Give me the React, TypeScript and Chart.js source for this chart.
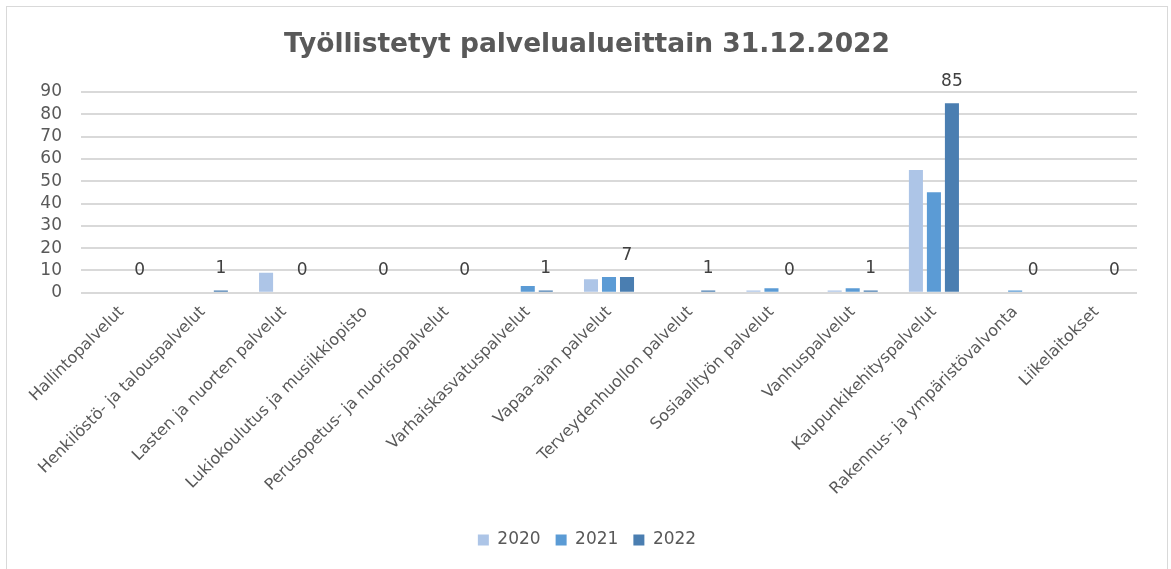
import React, { useEffect, useRef } from "react";
import { Chart, registerables } from "chart.js";

Chart.register(...registerables);

const TITLE = "Työllistetyt palvelualueittain 31.12.2022";

const categories = [
  "Hallintopalvelut",
  "Henkilöstö- ja talouspalvelut",
  "Lasten ja nuorten palvelut",
  "Lukiokoulutus ja musiikkiopisto",
  "Perusopetus- ja nuorisopalvelut",
  "Varhaiskasvatuspalvelut",
  "Vapaa-ajan palvelut",
  "Terveydenhuollon palvelut",
  "Sosiaalityön palvelut",
  "Vanhuspalvelut",
  "Kaupunkikehityspalvelut",
  "Rakennus- ja ympäristövalvonta",
  "Liikelaitokset",
];

const seriesNames = ["2020", "2021", "2022"];
const values2020 = [0, 0, 9, 0, 0, 0, 6, 0, 1, 1, 55, 0, 0];
const values2021 = [0, 0, 0, 0, 0, 3, 7, 0, 2, 2, 45, 1, 0];
const values2022 = [0, 1, 0, 0, 0, 1, 7, 1, 0, 1, 85, 0, 0];

const yMin = 0;
const yMax = 90;
const yStep = 10;

const FONT = "'DejaVu Sans', Verdana, sans-serif";

const valueLabelPlugin = {
  id: "valueLabels",
  afterDatasetsDraw(chart: any) {
    const ctx = chart.ctx;
    const meta = chart.getDatasetMeta(2);
    const data = chart.data.datasets[2].data;
    ctx.save();
    ctx.font = `17px ${FONT}`;
    ctx.fillStyle = "#404040";
    ctx.textAlign = "center";
    ctx.textBaseline = "middle";
    meta.data.forEach((bar: any, i: number) => {
      ctx.fillText(String(data[i]), bar.x, bar.y - 22);
    });
    ctx.restore();
  },
};

export default function App() {
  const canvasRef = useRef<HTMLCanvasElement | null>(null);

  useEffect(() => {
    if (!canvasRef.current) return;
    const chart = new Chart(canvasRef.current, {
      type: "bar",
      data: {
        labels: categories,
        datasets: [
          { label: seriesNames[0], data: values2020, backgroundColor: "#adc5e7" },
          { label: seriesNames[1], data: values2021, backgroundColor: "#5b9bd5" },
          { label: seriesNames[2], data: values2022, backgroundColor: "#4a7eb1" },
        ],
      },
      options: {
        animation: false,
        responsive: false,
        maintainAspectRatio: false,
        datasets: {
          bar: { categoryPercentage: 0.665, barPercentage: 0.78 },
        },
        layout: { padding: { left: 0, right: 0, top: 0, bottom: 10.5 } },
        plugins: {
          title: {
            display: true,
            text: TITLE,
            color: "#595959",
            font: { family: FONT, size: 26.5, weight: "bold" },
            padding: { top: 22.1, bottom: 31.1 },
          },
          legend: {
            display: true,
            position: "bottom",
            labels: {
              color: "#595959",
              font: { family: FONT, size: 17 },
              boxWidth: 11,
              boxHeight: 11,
              padding: 15,
            },
          },
          tooltip: { enabled: false },
        },
        scales: {
          x: {
            grid: { display: false },
            border: { display: false },
            ticks: {
              color: "#595959",
              font: { family: FONT, size: 16 },
              maxRotation: 45,
              minRotation: 45,
              padding: 2,
              autoSkip: false,
            },
            afterFit(scale: any) {
              scale.height = 223.8;
              scale.paddingRight = 30;
            },
          },
          y: {
            min: yMin,
            max: yMax,
            grid: { color: "#d9d9d9", lineWidth: 2, drawTicks: false },
            border: { display: false },
            ticks: {
              stepSize: yStep,
              autoSkip: false,
              color: "#595959",
              font: { family: FONT, size: 17 },
              padding: 19,
            },
            afterFit(scale: any) {
              scale.width = 74;
            },
          },
        },
      },
      plugins: [valueLabelPlugin],
    });
    return () => chart.destroy();
  }, []);

  return (
    <div
      style={{
        position: "fixed",
        left: 6,
        top: 6,
        width: 1162,
        height: 600,
        boxSizing: "border-box",
        border: "1px solid #d9d9d9",
        background: "#ffffff",
      }}
    >
      <canvas
        ref={canvasRef}
        width={1160}
        height={562}
        style={{ display: "block", width: 1160, height: 562 }}
      />
    </div>
  );
}
